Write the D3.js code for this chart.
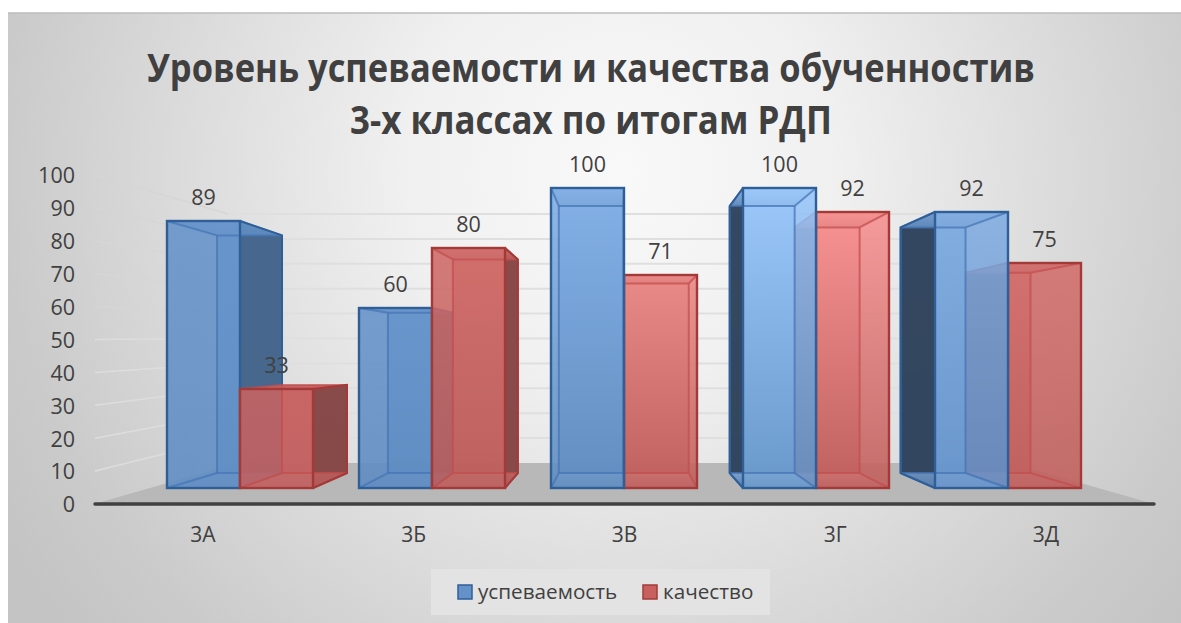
<!DOCTYPE html>
<html>
<head>
<meta charset="utf-8">
<script src="https://cdn.jsdelivr.net/npm/d3@7"></script>
<style>
	html, body { margin: 0; padding: 0; background: #fff; }
	svg { display: block; }
	text { font-family: "Open Sans", sans-serif; fill: #404040; }
	.title { font-size: 39px; font-weight: 700; text-anchor: middle; }
	.num { font-size: 21.5px; text-anchor: middle; }
</style>
</head>
<body>
<svg id="chart" width="1181" height="623"></svg>
<script>
let categories = ['3А', '3Б', '3В', '3Г', '3Д'];
let seriesNames = ['успеваемость', 'качество'];
let uspevaemost = [89, 60, 100, 100, 92];
let kachestvo = [33, 80, 71, 92, 75];
let yTicks = [0, 10, 20, 30, 40, 50, 60, 70, 80, 90, 100];
let titleLines = ['Уровень успеваемости и качества обученностив', '3-х классах по итогам РДП'];
let titleWidths = [888, 482];

// the lighting differs per column in the original, top and bottom of the front face
let blueFront = [['#6593ca', '#5f8dc4'], ['#6593ca', '#5d8bc2'], ['#80aee5', '#5f8cc0'], ['#99c6fa', '#6797cb'], ['#80ace1', '#6694cb']];
let redFront = [['#c86362', '#c26060'], ['#d06b69', '#bc5e5c'], ['#ea8785', '#bf5e5c'], ['#f79090', '#bf5e5c'], ['#d26e6c', '#c05f5d']];
let seriesStyle = [
	{fronts: blueFront, edge: '#2f5f98', inner: '#4576b5', side: '#46648a', sideRight: '#2f4159', swatch: '#6492c8'},
	{fronts: redFront, edge: '#a33a38', inner: '#c24f4e', side: '#854848', sideRight: '#6e2f30', swatch: '#c7605e'}
];

// perspective: everything shrinks towards this point with depth
let vp = {x: 622, y: 352},
	backScale = 0.89,
	floorFront = 1.118,
	floorBack = 0.816;

function project(x, y, s) {
	return [vp.x + (x - vp.x) * s, vp.y + (y - vp.y) * s];
}

let svg = d3.select('#chart');
let defs = svg.append('defs');

let bg = defs.append('radialGradient')
	.attr('id', 'bg')
	.attr('gradientUnits', 'userSpaceOnUse')
	.attr('cx', 620).attr('cy', 170).attr('r', 720);
[[0, '#f9f9f9'], [0.3, '#f0f0f0'], [0.6, '#dcdcdc'], [0.85, '#cbcbcb'], [1, '#c4c4c4']].forEach((d) => {
	bg.append('stop').attr('offset', d[0]).attr('stop-color', d[1]);
});

svg.append('rect')
	.attr('x', 8).attr('y', 13)
	.attr('width', 1173).attr('height', 610)
	.attr('fill', 'url(#bg)');
svg.append('line')
	.attr('x1', 8).attr('x2', 1181)
	.attr('y1', 13).attr('y2', 13)
	.attr('stroke', '#bdbdbd').attr('stroke-width', 1.5);

// scales
let x0 = d3.scaleBand().domain(categories).range([144, 1104]);
let x1 = d3.scaleBand().domain(d3.range(2)).range([23, 169]);
let y = d3.scaleLinear().domain([0, 100]).range([488, 188]);
let yWall = d3.scaleLinear().domain([0, 100]).range([463, 214]);
let yAxisScale = d3.scaleLinear().domain([0, 100]).range([505, 176]);
let xLabel = d3.scalePoint().domain(categories).range([203, 1046]);

// floor
let floorL = 150, floorR = 1098, floorY = 488;
svg.append('path')
	.attr('d', d3.line()([
		project(floorL, floorY, floorFront),
		project(floorL, floorY, floorBack),
		project(floorR, floorY, floorBack),
		project(floorR, floorY, floorFront)
	]) + 'Z')
	.attr('fill', '#b8b8b8');

// gridlines, back wall and left wall
let grid = svg.append('g').attr('class', 'grid');
yTicks.filter((d) => d > 0).forEach((d) => {
	grid.append('line')
		.attr('x1', 228).attr('x2', 1021)
		.attr('y1', yWall(d)).attr('y2', yWall(d))
		.attr('stroke', '#dfdfdf')
		.attr('stroke-width', 2);
	grid.append('line')
		.attr('x1', 95).attr('x2', 228)
		.attr('y1', yAxisScale(d) - 1).attr('y2', yWall(d))
		.attr('stroke', d > 50 ? '#d6d6d6' : '#dddddd')
		.attr('stroke-width', 1.5);
});

svg.append('line')
	.attr('x1', 95).attr('x2', 1154)
	.attr('y1', 504).attr('y2', 504)
	.attr('stroke', '#404040')
	.attr('stroke-width', 3.5)
	.attr('stroke-linecap', 'round');

// bars
function render_bar(g, cat, i, s, value) {
	let st = seriesStyle[s];
	let gradId = `front_${i}_${s}`;
	let grad = defs.append('linearGradient')
		.attr('id', gradId)
		.attr('x1', 0).attr('x2', 0)
		.attr('y1', 0).attr('y2', 1);
	grad.append('stop').attr('offset', 0).attr('stop-color', st.fronts[i][0]);
	grad.append('stop').attr('offset', 1).attr('stop-color', st.fronts[i][1]);

	let left = x0(cat) + x1(s),
		right = left + x1.bandwidth(),
		top = y(value),
		bottom = y(0);

	let fTL = [left, top], fTR = [right, top], fBR = [right, bottom], fBL = [left, bottom];
	let bTL = project(left, top, backScale), bTR = project(right, top, backScale),
		bBR = project(right, bottom, backScale), bBL = project(left, bottom, backScale);

	let fill = `url(#${gradId})`;
	let face = (pts, color, opacity) => g.append('path')
		.attr('d', d3.line()(pts) + 'Z')
		.attr('fill', color)
		.attr('fill-opacity', opacity);

	// the side turned towards the viewer's centre is the dark one
	let darkRight = (left + right) / 2 < vp.x;

	face([bTL, bTR, bBR, bBL], fill, 0.9);
	if (darkRight) {
		face([fTL, bTL, bBL, fBL], fill, 0.55);
		face([fTR, bTR, bBR, fBR], st.side, 0.95);
	}
	else {
		face([fTR, bTR, bBR, fBR], fill, 0.55);
		face([fTL, bTL, bBL, fBL], st.sideRight, 0.95);
	}
	face([fBL, fBR, bBR, bBL], fill, 0.7);
	face([fTL, fTR, bTR, bTL], fill, 0.85);

	g.append('rect')
		.attr('x', left).attr('y', top)
		.attr('width', right - left)
		.attr('height', bottom - top)
		.attr('fill', fill)
		.attr('fill-opacity', 0.74);

	// inner wire lines
	[[bTL, bTR], [bTR, bBR], [bBR, bBL], [bBL, bTL], [fTL, bTL], [fTR, bTR], [fBR, bBR], [fBL, bBL]].forEach((seg) => {
		g.append('path')
			.attr('d', d3.line()(seg))
			.attr('fill', 'none')
			.attr('stroke', st.inner)
			.attr('stroke-opacity', 0.75)
			.attr('stroke-width', 2);
	});
	// outline of the dark side
	g.append('path')
		.attr('d', d3.line()(darkRight ? [fTR, bTR, bBR, fBR] : [fTL, bTL, bBL, fBL]))
		.attr('fill', 'none')
		.attr('stroke', st.edge)
		.attr('stroke-width', 2);

	g.append('rect')
		.attr('x', left).attr('y', top)
		.attr('width', right - left)
		.attr('height', bottom - top)
		.attr('fill', 'none')
		.attr('stroke', st.edge)
		.attr('stroke-width', 2.4);
}

let bars = svg.append('g').attr('class', 'bars');
categories.forEach((cat, i) => {
	let values = [uspevaemost[i], kachestvo[i]];
	// bars further from the centre are painted first
	let order = d3.range(2).sort((a, b) => {
		let ca = x0(cat) + x1(a) + x1.bandwidth() / 2,
			cb = x0(cat) + x1(b) + x1.bandwidth() / 2;
		return Math.abs(cb - vp.x) - Math.abs(ca - vp.x);
	});
	let g = bars.append('g').attr('class', 'cat');
	order.forEach((s) => render_bar(g, cat, i, s, values[s]));
});

// data labels
categories.forEach((cat, i) => {
	[uspevaemost[i], kachestvo[i]].forEach((v, s) => {
		svg.append('text')
			.attr('class', 'num')
			.attr('x', x0(cat) + x1(s) + x1.bandwidth() / 2)
			.attr('y', y(v) - 24)
			.attr('dy', '.35em')
			.text(v);
	});
});

// y axis
let axis = svg.append('g')
	.attr('transform', 'translate(75, 0)')
	.call(d3.axisLeft(yAxisScale).tickValues(yTicks).tickSize(0).tickPadding(0));
axis.select('.domain').remove();
axis.selectAll('text')
	.style('font-size', '21.5px')
	.style('font-family', '"Open Sans", sans-serif')
	.style('fill', '#404040');

// category labels
svg.selectAll('.cat_label')
	.data(categories)
	.enter()
	.append('text')
	.attr('class', 'num cat_label')
	.attr('x', (d) => xLabel(d))
	.attr('y', 535)
	.attr('dy', '.35em')
	.style('font-size', '21px')
	.text((d) => d);

// title
svg.selectAll('.title')
	.data(titleLines)
	.enter()
	.append('text')
	.attr('class', 'title')
	.attr('x', 591)
	.attr('y', (d, i) => 82 + i * 52)
	.attr('textLength', (d, i) => titleWidths[i])
	.attr('lengthAdjust', 'spacingAndGlyphs')
	.text((d) => d);

// legend
let legend = svg.append('g');
legend.append('rect')
	.attr('x', 431).attr('y', 569)
	.attr('width', 339).attr('height', 46)
	.attr('fill', '#e3e3e3');
let legendX = [458, 643];
seriesNames.forEach((name, s) => {
	legend.append('rect')
		.attr('x', legendX[s]).attr('y', 585)
		.attr('width', 14).attr('height', 14)
		.attr('fill', seriesStyle[s].swatch)
		.attr('stroke', seriesStyle[s].edge)
		.attr('stroke-width', 1.5);
	legend.append('text')
		.attr('x', legendX[s] + 20)
		.attr('y', 592)
		.attr('dy', '.35em')
		.style('font-size', '20.7px')
		.text(name);
});
</script>
</body>
</html>
